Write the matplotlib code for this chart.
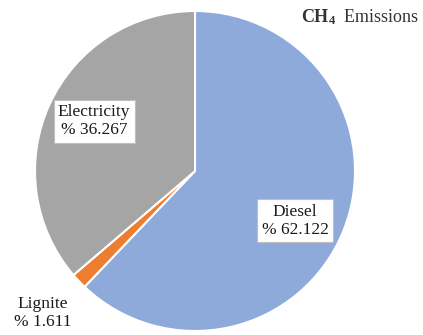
import matplotlib
matplotlib.use("Agg")
import matplotlib.pyplot as plt

# Share of CH4 emissions by energy source (%)
sources = ["Diesel", "Lignite", "Electricity"]
shares = [62.122, 1.611, 36.267]
colors = ["#8eaadb", "#ed7d31", "#a5a5a5"]

plt.rcParams["font.family"] = ["Liberation Serif", "DejaVu Serif"]
plt.rcParams["mathtext.fontset"] = "custom"
plt.rcParams["mathtext.rm"] = "Liberation Serif"
plt.rcParams["mathtext.bf"] = "Liberation Serif:bold"

W, H = 423, 335
fig = plt.figure(figsize=(W / 100, H / 100), dpi=100)
cx, cy, r = 195, 171, 160
ax = fig.add_axes([(cx - r) / W, (H - cy - r) / H, 2 * r / W, 2 * r / H])

ax.pie(shares, colors=colors, startangle=90, counterclock=False,
       wedgeprops=dict(edgecolor="white", linewidth=1.5), radius=1.0)
ax.set_xlim(-1, 1)
ax.set_ylim(-1, 1)
ax.set_aspect("equal")
ax.axis("off")

label_pos = {
    "Diesel": (0.625, -0.31),
    "Electricity": (-0.63, 0.31),
    "Lignite": (-0.95, -0.885),
}
boxed = {"Diesel", "Electricity"}
for name, val in zip(sources, shares):
    x, y = label_pos[name]
    kw = {}
    if name in boxed:
        kw["bbox"] = dict(boxstyle="square,pad=0.25", fc="white", ec="#bfbfbf", lw=0.8)
    ax.text(x, y, f"{name}\n% {val:.3f}", ha="center", va="center",
            fontsize=12.5, color="#1a1a1a", linespacing=1.15,
            clip_on=False, **kw)

fig.text(419 / W, 1 - 17 / H, r"$\mathbf{CH_4}$  Emissions", ha="right", va="center",
         fontsize=13, color="#333333")

fig.savefig("out.png", dpi=100, facecolor="white")
